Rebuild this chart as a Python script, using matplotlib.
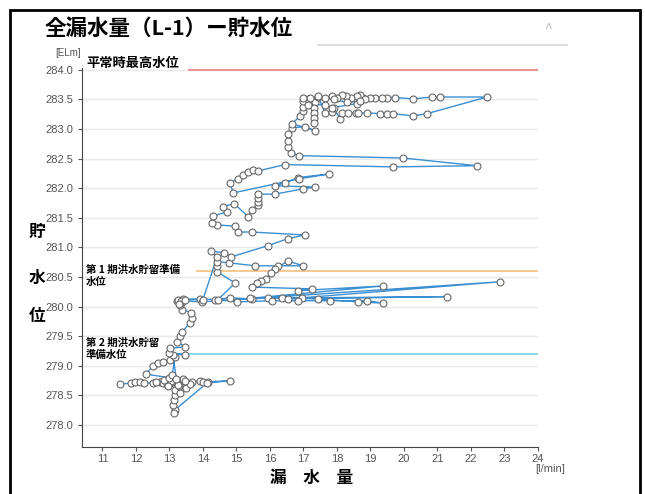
import matplotlib
matplotlib.use("Agg")
import matplotlib.pyplot as plt
from matplotlib.patches import Rectangle
from matplotlib.lines import Line2D

plt.rcParams['font.family'] = ['Noto Sans CJK JP', 'DejaVu Sans']
tick_font = 'Liberation Sans'

# leak rate [l/min] and reservoir level [ELm], in time order
# low water period
low_x = [11.52, 11.85, 11.97, 12.12, 12.24, 12.51, 12.72, 12.81, 12.93, 13.02, 13.11, 13.23,
         13.32, 13.67, 13.91, 14.00, 14.15, 14.81, 14.12, 13.17, 13.14, 13.11, 13.14, 13.17,
         13.17, 13.32, 13.29, 13.14, 13.48, 13.60, 13.40, 13.05, 12.85, 12.60, 12.95, 13.25,
         13.45, 13.00]
low_y = [278.69, 278.71, 278.73, 278.73, 278.71, 278.71, 278.73, 278.71, 278.69, 278.71, 278.73, 278.71,
         278.73, 278.73, 278.75, 278.73, 278.73, 278.75, 278.71, 278.26, 278.21, 278.34, 278.43, 278.51,
         278.59, 278.54, 278.66, 278.75, 278.62, 278.70, 278.78, 278.74, 278.76, 278.72, 278.66, 278.68,
         278.74, 278.80]
# loop around 279.0
loop_x = [12.30, 12.51, 12.66, 12.81, 13.02, 13.17, 13.08, 13.20]
loop_y = [278.86, 279.00, 279.05, 279.07, 279.10, 279.15, 278.85, 278.78]
# rise to 280.1
rise_x = [13.11, 13.46, 12.99, 13.02, 13.46, 13.23, 13.32, 13.38, 13.61, 13.67, 13.64, 13.38,
          13.32, 13.38, 13.23, 13.41]
rise_y = [279.19, 279.19, 279.22, 279.30, 279.32, 279.41, 279.51, 279.57, 279.73, 279.81, 279.90, 279.95,
          280.03, 280.08, 280.10, 280.13]
# around 280.1
mid_x = [13.26, 13.91, 14.36, 14.81, 15.46, 15.94, 16.36, 16.96, 17.43, 18.63, 19.38, 18.90,
         17.79, 16.84, 16.06, 15.02, 14.45, 14.96, 14.42, 14.42, 14.42, 14.78, 15.55, 16.24,
         16.99, 16.54, 16.15, 16.03, 15.88, 15.73, 15.61, 15.46, 17.26, 16.84, 19.38, 15.40,
         21.29, 16.54, 22.87, 13.97, 13.35, 13.30, 13.45, 14.00, 14.42]
mid_y = [280.12, 280.13, 280.12, 280.15, 280.13, 280.15, 280.15, 280.15, 280.13, 280.08, 280.06, 280.10,
         280.10, 280.10, 280.10, 280.08, 280.12, 280.40, 280.59, 280.68, 280.76, 280.74, 280.69, 280.69,
         280.69, 280.77, 280.64, 280.56, 280.47, 280.43, 280.40, 280.33, 280.30, 280.27, 280.35, 280.14,
         280.17, 280.13, 280.42, 280.08, 280.10, 280.05, 280.12, 280.12, 280.84]
# 280.9 - 282.3
up_x = [14.24, 14.63, 14.84, 15.94, 16.54, 17.05, 15.46, 15.05, 14.96, 14.42, 14.27, 14.30,
        14.72, 14.60, 14.93, 15.35, 15.46, 15.64, 15.64, 15.64, 15.64, 16.15, 16.99, 17.35,
        16.15, 16.45, 16.84, 17.76, 16.87, 14.90, 14.81, 15.05, 15.20, 15.35, 15.50, 15.64]
up_y = [280.94, 280.91, 280.84, 281.03, 281.15, 281.21, 281.26, 281.26, 281.36, 281.38, 281.42, 281.53,
        281.60, 281.69, 281.74, 281.52, 281.64, 281.72, 281.77, 281.84, 281.90, 281.90, 281.99, 282.02,
        282.04, 282.09, 282.18, 282.24, 282.16, 281.92, 282.09, 282.16, 282.23, 282.27, 282.30, 282.29]
# 282.4 - 283.6
high_x = [16.45, 19.67, 22.18, 19.97, 16.87, 16.63, 16.54, 16.54, 16.54, 16.66, 17.05, 17.35,
          16.66, 16.90, 16.99, 16.99, 17.00, 17.15, 17.33, 17.30, 17.30, 17.30, 17.30, 17.44,
          17.65, 17.85, 17.90, 18.09, 18.15, 18.33, 18.57, 18.63, 18.90, 19.29, 19.49, 19.67,
          20.27, 20.69, 22.48, 21.07, 20.85, 20.27, 19.73, 19.49, 19.35, 19.14, 18.99, 18.78,
          18.69, 18.60, 18.42, 18.27, 18.15, 18.00, 17.85, 17.64, 17.44, 17.20, 16.99, 17.15,
          17.64, 17.85, 18.60, 18.85, 18.70, 18.30, 17.90]
high_y = [282.40, 282.36, 282.38, 282.51, 282.55, 282.60, 282.70, 282.80, 282.92, 283.02, 283.04, 282.97,
          283.09, 283.22, 283.30, 283.37, 283.48, 283.51, 283.45, 283.36, 283.27, 283.18, 283.10, 283.54,
          283.27, 283.29, 283.36, 283.17, 283.27, 283.27, 283.27, 283.27, 283.27, 283.26, 283.26, 283.26,
          283.22, 283.26, 283.54, 283.54, 283.54, 283.51, 283.53, 283.53, 283.53, 283.53, 283.53, 283.53,
          283.58, 283.55, 283.53, 283.55, 283.57, 283.53, 283.55, 283.53, 283.55, 283.52, 283.53, 283.41,
          283.41, 283.36, 283.43, 283.50, 283.47, 283.45, 283.50]

leak = low_x + loop_x + rise_x + mid_x + up_x + high_x
level = low_y + loop_y + rise_y + mid_y + up_y + high_y

# reference levels: (label, level, line start, colour)
ref_names = ['平常時最高水位', '第 1 期洪水貯留準備\n水位', '第 2 期洪水貯留\n準備水位']
ref_levels = [284.0, 280.6, 279.2]
ref_start = [13.55, 13.79, 13.2]
ref_colors = ['#e8898c', '#f7c48a', '#7fd6f0']

fig = plt.figure(figsize=(6.45, 4.94), dpi=100)
ax = fig.add_axes([82/645, 47/494, 456/645, 379/494])

for y in [278.0 + 0.5*i for i in range(13)]:
    ax.axhline(y, color='#e8e8e8', lw=1, zorder=0)

for name, y, x0, c in zip(ref_names, ref_levels, ref_start, ref_colors):
    ax.hlines(y, x0, 24, color=c, lw=1.3, zorder=1)

ax.plot(leak, level, color='#3a8fd3', lw=1, marker='o', ms=5,
        mfc='white', mec='#666666', mew=0.8, zorder=3)

ax.set_xlim(10.39, 24)
ax.set_ylim(277.63, 284.03)
ax.set_xticks(range(11, 25))
ax.set_yticks([278.0 + 0.5*i for i in range(13)])
ax.set_yticklabels(['%.1f' % (278.0 + 0.5*i) for i in range(13)])
for s in ['top', 'right']:
    ax.spines[s].set_visible(False)
for s in ['left', 'bottom']:
    ax.spines[s].set_color('#444444')
ax.tick_params(axis='both', colors='#555555', labelsize=8, length=3, width=0.8)
ax.tick_params(axis='x', pad=2)
for lab in ax.get_xticklabels() + ax.get_yticklabels():
    lab.set_family(tick_font)

# labels for reference lines
fig.text(86/645, 1-63/494, ref_names[0], fontsize=9.5, fontweight='bold', va='center')
fig.text(86/645, 1-276/494, ref_names[1], fontsize=7.5, fontweight='bold', va='center', linespacing=1.3)
fig.text(86/645, 1-349/494, ref_names[2], fontsize=7.5, fontweight='bold', va='center', linespacing=1.3)

# axis titles
for ch, yy in zip('貯水位', [232, 278, 316]):
    fig.text(37/645, 1-yy/494, ch, fontsize=12, fontweight='bold', ha='center', va='center')
fig.text(312/645, 1-478/494, '漏　水　量', fontsize=12, fontweight='bold', ha='center', va='center')
fig.text(68/645, 1-53/494, '[ELm]', fontsize=7, color='#555555', ha='center', va='center', family=tick_font)
fig.text(550/645, 1-469/494, '[l/min]', fontsize=8, color='#555555', ha='center', va='center', family=tick_font)

# title and frame
fig.text(45/645, 1-28/494, '全漏水量（L-1）ー貯水位', fontsize=15.5, fontweight='bold', va='center')
fig.text(548/645, 1-30/494, '^', fontsize=10, color='#bbbbbb', ha='center', va='center')
fig.add_artist(Line2D([318/645, 567/645], [1-45/494, 1-45/494], color='#dddddd', lw=1.5))
fig.add_artist(Rectangle((10/645, -0.02), 630/645, 1-10/494+0.02, fill=False, ec='black', lw=2))

fig.savefig('out.png', dpi=100)
